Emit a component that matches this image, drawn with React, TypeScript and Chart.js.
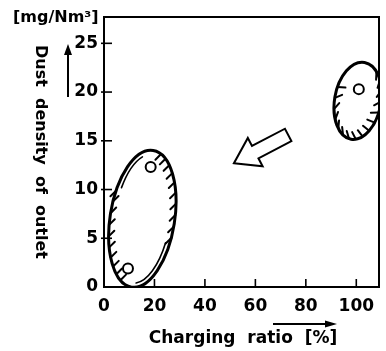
import { useEffect, useRef } from "react";
import { Chart, registerables } from "chart.js";

Chart.register(...registerables);

// ---- data ----
const xTicks = [0, 20, 40, 60, 80, 100];
const yTicks = [0, 5, 10, 15, 20, 25];
const chargingRatio = [9.5, 18.5, 101];
const dustDensity = [1.9, 12.3, 20.3];

// hatched regions (ellipses) in data units
const regionCenterX = [15.2, 100.6];
const regionCenterY = [7.0, 19.1];
const regionRadiusX = [12.8, 9.2];
const regionRadiusY = [7.1, 4.0];
const regionTiltDeg = [9, 10];

// hollow block arrow (tip / tail) in data units
const arrowTip = [51.5, 12.7];
const arrowTail = [73, 15.6];

const X_MIN = 0;
const X_MAX = 109;
const Y_MIN = 0;
const Y_MAX = 27.7;

const FONT = "'DejaVu Sans', sans-serif";

function ellipsePoint(cx: number, cy: number, rx: number, ry: number, rot: number, t: number) {
  const ex = rx * Math.cos(t);
  const ey = ry * Math.sin(t);
  return [cx + ex * Math.cos(rot) - ey * Math.sin(rot), cy + ex * Math.sin(rot) + ey * Math.cos(rot)];
}

function drawRegion(
  ctx: CanvasRenderingContext2D,
  cx: number,
  cy: number,
  rx: number,
  ry: number,
  rot: number,
  ranges: number[][],
  step: number,
  innerArcs: number[][],
  fixedDir: boolean
) {
  const deg = Math.PI / 180;
  ctx.strokeStyle = "#000";
  ctx.lineCap = "round";
  ctx.lineWidth = 3;
  ctx.beginPath();
  ctx.ellipse(cx, cy, rx, ry, rot, 0, Math.PI * 2);
  ctx.stroke();
  ctx.lineWidth = 2;
  for (const [a0, a1] of ranges) {
    const n = Math.max(2, Math.round((a1 - a0) / step));
    for (let i = 0; i <= n; i++) {
      const t = (a0 + ((a1 - a0) * i) / n) * deg;
      const [px, py] = ellipsePoint(cx, cy, rx, ry, rot, t);
      let dx: number;
      let dy: number;
      if (fixedDir) {
        dx = Math.SQRT1_2;
        dy = -Math.SQRT1_2;
        if (dx * (cx - px) + dy * (cy - py) < 0) {
          dx = -dx;
          dy = -dy;
        }
      } else {
        dx = cx - px;
        dy = cy - py;
        const l = Math.hypot(dx, dy) || 1;
        dx /= l;
        dy /= l;
        const ang = -30 * deg;
        const rdx = dx * Math.cos(ang) - dy * Math.sin(ang);
        const rdy = dx * Math.sin(ang) + dy * Math.cos(ang);
        dx = rdx;
        dy = rdy;
      }
      ctx.beginPath();
      ctx.moveTo(px, py);
      ctx.lineTo(px + dx * 8, py + dy * 8);
      ctx.stroke();
    }
  }
  ctx.lineWidth = 1.6;
  for (const arc of innerArcs) {
    ctx.beginPath();
    ctx.ellipse(cx, cy, rx * 0.87, ry * 0.94, rot, arc[0] * deg, arc[1] * deg);
    ctx.stroke();
  }
}

const figurePlugin = {
  id: "figure",
  beforeDatasetsDraw(chart: any) {
    const { ctx, chartArea: a, scales } = chart;
    const x = scales.x;
    const y = scales.y;
    ctx.save();
    ctx.beginPath();
    ctx.rect(a.left, a.top, a.right - a.left, a.bottom - a.top);
    ctx.clip();
    const hatchRanges = [
      [
        [112, 200],
        [285, 372],
      ],
      [[-55, 195]],
    ];
    const steps = [10, 17];
    const inner = [
      [
        [18, 82],
        [205, 250],
      ],
      [],
    ];
    const fixed = [true, false];
    for (let i = 0; i < regionCenterX.length; i++) {
      const cx = x.getPixelForValue(regionCenterX[i]);
      const cy = y.getPixelForValue(regionCenterY[i]);
      const rx = x.getPixelForValue(regionCenterX[i] + regionRadiusX[i]) - cx;
      const ry = cy - y.getPixelForValue(regionCenterY[i] + regionRadiusY[i]);
      drawRegion(ctx, cx, cy, rx, ry, (regionTiltDeg[i] * Math.PI) / 180, hatchRanges[i], steps[i], inner[i], fixed[i]);
    }
    ctx.restore();

    // hollow block arrow
    const tx = x.getPixelForValue(arrowTip[0]);
    const ty = y.getPixelForValue(arrowTip[1]);
    const bx = x.getPixelForValue(arrowTail[0]);
    const by = y.getPixelForValue(arrowTail[1]);
    let ux = bx - tx;
    let uy = by - ty;
    const len = Math.hypot(ux, uy);
    ux /= len;
    uy /= len;
    const nx = -uy;
    const ny = ux;
    const headLen = 24;
    const headW = 16;
    const shaftW = 7;
    const hx = tx + ux * headLen;
    const hy = ty + uy * headLen;
    ctx.save();
    ctx.strokeStyle = "#000";
    ctx.lineWidth = 2;
    ctx.lineJoin = "miter";
    ctx.beginPath();
    ctx.moveTo(tx, ty);
    ctx.lineTo(hx + nx * headW, hy + ny * headW);
    ctx.lineTo(hx + nx * shaftW, hy + ny * shaftW);
    ctx.lineTo(bx + nx * shaftW, by + ny * shaftW);
    ctx.lineTo(bx - nx * shaftW, by - ny * shaftW);
    ctx.lineTo(hx - nx * shaftW, hy - ny * shaftW);
    ctx.lineTo(hx - nx * headW, hy - ny * headW);
    ctx.closePath();
    ctx.stroke();
    ctx.restore();
  },
  afterDraw(chart: any) {
    const { ctx, chartArea: a, scales } = chart;
    const x = scales.x;
    const y = scales.y;
    ctx.save();
    ctx.strokeStyle = "#000";
    ctx.fillStyle = "#000";
    // frame
    ctx.lineWidth = 2;
    ctx.strokeRect(a.left, a.top, a.right - a.left, a.bottom - a.top);
    // inward ticks
    ctx.lineWidth = 1.6;
    for (const v of yTicks) {
      if (v === 0) continue;
      const py = y.getPixelForValue(v);
      ctx.beginPath();
      ctx.moveTo(a.left - 3, py);
      ctx.lineTo(a.left + 8, py);
      ctx.stroke();
    }
    for (const v of xTicks) {
      if (v === 0) continue;
      const px = x.getPixelForValue(v);
      ctx.beginPath();
      ctx.moveTo(px, a.bottom);
      ctx.lineTo(px, a.bottom - 8);
      ctx.stroke();
    }

    // unit label
    ctx.font = `bold 16px ${FONT}`;
    ctx.textAlign = "left";
    ctx.textBaseline = "middle";
    ctx.fillText("[mg/Nm³]", 13, 18);

    // y title (reads top to bottom)
    ctx.save();
    ctx.translate(40, 152);
    ctx.rotate(Math.PI / 2);
    ctx.font = `bold 16px ${FONT}`;
    ctx.textAlign = "center";
    ctx.textBaseline = "middle";
    ctx.fillText("Dust  density  of  outlet", 0, 0);
    ctx.restore();

    // y arrow
    ctx.lineWidth = 2;
    ctx.beginPath();
    ctx.moveTo(68, 97);
    ctx.lineTo(68, 52);
    ctx.stroke();
    ctx.beginPath();
    ctx.moveTo(68, 44);
    ctx.lineTo(64, 55);
    ctx.lineTo(72, 55);
    ctx.closePath();
    ctx.fill();

    // x title
    ctx.font = `bold 17px ${FONT}`;
    ctx.textAlign = "center";
    ctx.textBaseline = "middle";
    ctx.fillText("Charging  ratio  [%]", 243, 339);

    // x arrow
    ctx.lineWidth = 2;
    ctx.beginPath();
    ctx.moveTo(273, 324);
    ctx.lineTo(328, 324);
    ctx.stroke();
    ctx.beginPath();
    ctx.moveTo(337, 324);
    ctx.lineTo(325, 320.5);
    ctx.lineTo(325, 327.5);
    ctx.closePath();
    ctx.fill();
    ctx.restore();
  },
};

export default function App() {
  const ref = useRef<HTMLCanvasElement | null>(null);
  useEffect(() => {
    if (!ref.current) return;
    const chart = new Chart(ref.current, {
      type: "scatter",
      data: {
        datasets: [
          {
            data: chargingRatio.map((v, i) => ({ x: v, y: dustDensity[i] })),
            pointRadius: 5,
            pointBorderWidth: 2,
            borderColor: "#000",
            backgroundColor: "#fff",
            pointBackgroundColor: "#fff",
            pointBorderColor: "#000",
          },
        ],
      },
      options: {
        responsive: false,
        animation: false,
        layout: { padding: { top: 17, right: 3, left: 0, bottom: 0 } },
        plugins: { legend: { display: false }, tooltip: { enabled: false } },
        scales: {
          x: {
            type: "linear",
            min: X_MIN,
            max: X_MAX,
            afterBuildTicks: (s: any) => {
              s.ticks = xTicks.map((v) => ({ value: v }));
            },
            afterFit: (s: any) => {
              s.height = 64;
            },
            grid: { display: false, drawTicks: false },
            border: { display: false },
            ticks: {
              color: "#000",
              padding: 9,
              maxRotation: 0,
              font: { family: FONT, size: 17, weight: "bold" },
            },
          },
          y: {
            type: "linear",
            min: Y_MIN,
            max: Y_MAX,
            afterBuildTicks: (s: any) => {
              s.ticks = yTicks.map((v) => ({ value: v }));
            },
            afterFit: (s: any) => {
              s.width = 104;
            },
            grid: { display: false, drawTicks: false },
            border: { display: false },
            ticks: {
              color: "#000",
              padding: 6,
              font: { family: FONT, size: 17, weight: "bold" },
            },
          },
        },
      } as any,
      plugins: [figurePlugin],
    });
    return () => chart.destroy();
  }, []);
  return (
    <div style={{ position: "fixed", left: 0, top: 0, width: 386, height: 351, background: "#fff" }}>
      <canvas ref={ref} width={386} height={351} />
    </div>
  );
}
